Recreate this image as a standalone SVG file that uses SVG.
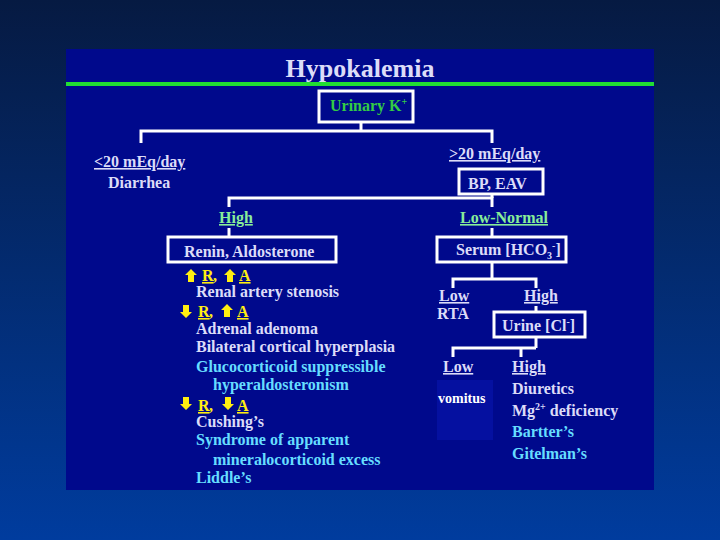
<svg xmlns="http://www.w3.org/2000/svg" xmlns:xlink="http://www.w3.org/1999/xlink" width="720" height="540" viewBox="0 0 720 540">
<defs>
<linearGradient id="bg" x1="0" y1="0" x2="0" y2="1">
<stop offset="0" stop-color="#061a42"/>
<stop offset="1" stop-color="#003c9e"/>
</linearGradient>
<polygon id="up" points="0,-7 6,-1 3,-1 3,6 -3,6 -3,-1 -6,-1" fill="#ffee11"/>
<style>
text{font-family:"Liberation Serif","Times New Roman",serif;font-weight:bold;font-size:16px;fill:#dcdcf8}
.t{font-size:26px;text-anchor:middle;fill:#dcdcf8}
.g{fill:#33cc44}
.lg{fill:#88ee99;text-decoration:underline}
.u{text-decoration:underline}
.y{fill:#ffee11}
.c{fill:#66ddff}
.w{fill:#ffffff;font-size:14px}
.box{fill:none;stroke:#ffffff;stroke-width:3}
.ln{fill:none;stroke:#ffffff;stroke-width:3}
</style>
</defs>
<rect x="0" y="0" width="720" height="540" fill="url(#bg)"/>
<rect x="66" y="49" width="588" height="441" fill="#00098c"/>
<rect x="66" y="82" width="588" height="4" fill="#22dd33"/>
<text class="t" x="360" y="77">Hypokalemia</text>

<g id="connectors">
<polyline class="ln" points="361,122 361,131"/>
<polyline class="ln" points="141,143 141,131 492,131 492,143"/>
<polyline class="ln" points="492,194 492,198"/>
<polyline class="ln" points="229,207 229,198 492,198 492,207"/>
<polyline class="ln" points="229,228 229,237"/>
<polyline class="ln" points="492,228 492,237"/>
<polyline class="ln" points="492,262 492,279"/>
<polyline class="ln" points="453,288 453,279 536,279 536,288"/>
<polyline class="ln" points="536,306 536,312"/>
<polyline class="ln" points="536,337 536,348"/>
<polyline class="ln" points="453,357 453,348 536,348"/>
<polyline class="ln" points="521,348 521,357"/>
</g>

<g id="urinary">
<rect class="box" x="319" y="91" width="94" height="31"/>
<text class="g" x="330" y="111">Urinary K<tspan dy="-6" font-size="10">+</tspan></text>
</g>

<g id="low-urine">
<text class="u" x="94" y="167">&lt;20 mEq/day</text>
<text x="108" y="188">Diarrhea</text>
</g>

<g id="high-urine">
<text class="u" x="449" y="159">&gt;20 mEq/day</text>
<rect class="box" x="459" y="169" width="84" height="25"/>
<text x="468" y="189">BP, EAV</text>
</g>

<g id="high-bp">
<text class="lg" x="219" y="223">High</text>
<rect class="box" x="168" y="237" width="168" height="25"/>
<text x="184" y="257">Renin, Aldosterone</text>
</g>

<g id="renin-list">
<use xlink:href="#up" x="191" y="276"/>
<text class="y u" x="202" y="281">R</text>
<text class="y" x="213" y="281">,</text>
<use xlink:href="#up" x="230" y="276"/>
<text class="y u" x="239" y="281">A</text>
<text x="196" y="297">Renal artery stenosis</text>

<use xlink:href="#up" transform="translate(186,311) scale(1,-1)"/>
<text class="y u" x="198" y="317">R</text>
<text class="y" x="209" y="317">,</text>
<use xlink:href="#up" x="227" y="311"/>
<text class="y u" x="237" y="317">A</text>
<text x="196" y="334">Adrenal adenoma</text>
<text x="196" y="352">Bilateral cortical hyperplasia</text>
<text class="c" x="196" y="372">Glucocorticoid suppressible</text>
<text class="c" x="213" y="390">hyperaldosteronism</text>

<use xlink:href="#up" transform="translate(186,403) scale(1,-1)"/>
<text class="y u" x="198" y="411">R</text>
<text class="y" x="209" y="411">,</text>
<use xlink:href="#up" transform="translate(228,403) scale(1,-1)"/>
<text class="y u" x="237" y="411">A</text>
<text x="196" y="427">Cushing’s</text>
<text class="c" x="196" y="445">Syndrome of apparent</text>
<text class="c" x="213" y="465">mineralocorticoid excess</text>
<text class="c" x="196" y="483">Liddle’s</text>
</g>

<g id="low-normal-bp">
<text class="lg" x="460" y="223">Low-Normal</text>
<rect class="box" x="437" y="237" width="129" height="25"/>
<text x="456" y="255">Serum [HCO<tspan dy="4" font-size="10">3</tspan><tspan dy="-10" font-size="10">-</tspan><tspan dy="6">]</tspan></text>
</g>

<g id="low-hco3">
<text class="u" x="439" y="301">Low</text>
<text x="437" y="319">RTA</text>
</g>

<g id="high-hco3">
<text class="u" x="524" y="301">High</text>
<rect class="box" x="494" y="312" width="91" height="25"/>
<text x="502" y="331">Urine [Cl<tspan dy="-6" font-size="10">-</tspan><tspan dy="6">]</tspan></text>
</g>

<g id="low-cl">
<rect x="437" y="380" width="56" height="60" fill="#0510a0"/>
<text class="u" x="443" y="372">Low</text>
<text class="w" x="438" y="403">vomitus</text>
</g>

<g id="high-cl">
<text class="u" x="512" y="372">High</text>
<text x="512" y="394">Diuretics</text>
<text x="512" y="416">Mg<tspan dy="-6" font-size="10">2+</tspan><tspan dy="6"> deficiency</tspan></text>
<text class="c" x="512" y="437">Bartter’s</text>
<text class="c" x="512" y="459">Gitelman’s</text>
</g>
</svg>
